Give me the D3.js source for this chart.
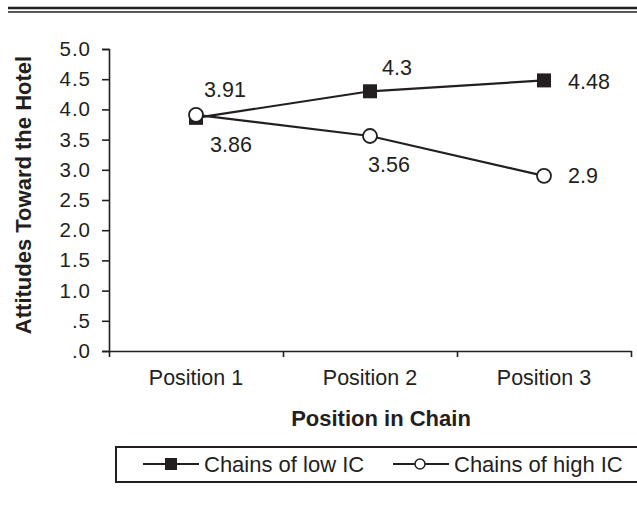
<!DOCTYPE html>
<html>
<head>
<meta charset="utf-8">
<script src="https://cdn.jsdelivr.net/npm/d3@7"></script>
<style>
  body { margin: 0; background: #fff; }
  svg text { font-family: "Liberation Sans", Arial, sans-serif; fill: #231f20; }
</style>
</head>
<body>
<div id="mainDiv"></div>
<script>
'use strict';

var categories = ["Position 1", "Position 2", "Position 3"];
var lowIC = [3.86, 4.3, 4.48];
var highIC = [3.91, 3.56, 2.9];
var yTicks = [0, 0.5, 1, 1.5, 2, 2.5, 3, 3.5, 4, 4.5, 5];
var yTickLabels = [".0", ".5", "1.0", "1.5", "2.0", "2.5", "3.0", "3.5", "4.0", "4.5", "5.0"];
var seriesNames = ["Chains of low IC", "Chains of high IC"];

// where each value label sits relative to its marker (layout only)
var lowLabelOffsets = [[14, 34], [12, -16], [24, 9]];
var highLabelOffsets = [[8, -18], [-2, 36], [24, 7]];

var ink = "#231f20";

var myApp = {};

myApp.run = function ()
{
    var svg = d3.select("#mainDiv").append("svg")
        .attr("width", 637)
        .attr("height", 508);

    // double rule at the top
    svg.append("line").attr("x1", 8).attr("x2", 637).attr("y1", 8).attr("y2", 8)
        .attr("stroke", ink).attr("stroke-width", 2.4);
    svg.append("line").attr("x1", 8).attr("x2", 637).attr("y1", 12).attr("y2", 12)
        .attr("stroke", ink).attr("stroke-width", 1.6);

    var x = d3.scaleBand().domain(categories).range([109, 631]).padding(0);
    var xEdges = d3.scaleLinear().domain([0, categories.length]).range([109, 631]);
    var y = d3.scaleLinear().domain([0, 5]).range([351, 49]);

    // y axis
    var yAxis = svg.append("g")
        .attr("transform", "translate(109,0)")
        .call(d3.axisLeft(y).tickValues(yTicks).tickSize(7).tickPadding(11)
            .tickFormat(function(d, i) { return yTickLabels[i]; }));
    yAxis.select(".domain").attr("stroke", ink).attr("stroke-width", 1.6);
    yAxis.selectAll(".tick line").attr("stroke", ink).attr("stroke-width", 1.6);
    yAxis.selectAll(".tick text")
        .attr("font-size", "20.5px")
        .attr("letter-spacing", "1px")
        .style("font-family", "'Liberation Sans', Arial, sans-serif")
        .attr("fill", ink);

    // x axis: boundary ticks + category labels
    var xAxis = svg.append("g")
        .attr("transform", "translate(0,351)")
        .call(d3.axisBottom(xEdges).ticks(categories.length).tickSize(6).tickSizeOuter(0)
            .tickFormat(""));
    xAxis.select(".domain").attr("stroke", ink).attr("stroke-width", 1.6);
    xAxis.selectAll(".tick line").attr("stroke", ink).attr("stroke-width", 1.6);

    var xLabels = svg.append("g")
        .attr("transform", "translate(0,351)")
        .call(d3.axisBottom(x).tickSize(0).tickPadding(19));
    xLabels.select(".domain").remove();
    xLabels.selectAll(".tick text")
        .attr("font-size", "21.5px")
        .style("font-family", "'Liberation Sans', Arial, sans-serif")
        .attr("fill", ink);

    // axis titles
    svg.append("text")
        .attr("x", 381).attr("y", 426)
        .attr("text-anchor", "middle")
        .attr("font-size", "22px").attr("font-weight", "bold")
        .text("Position in Chain");

    svg.append("text")
        .attr("transform", "translate(31,195) rotate(-90)")
        .attr("text-anchor", "middle")
        .attr("font-size", "22px").attr("font-weight", "bold")
        .text("Attitudes Toward the Hotel");

    var cx = function(d, i) { return x(categories[i]) + x.bandwidth() / 2; };
    var line = d3.line()
        .x(function(d, i) { return cx(d, i); })
        .y(function(d) { return y(d); });

    svg.append("path").datum(lowIC)
        .attr("d", line).attr("fill", "none")
        .attr("stroke", ink).attr("stroke-width", 2.2);
    svg.append("path").datum(highIC)
        .attr("d", line).attr("fill", "none")
        .attr("stroke", ink).attr("stroke-width", 2.2);

    svg.selectAll("rect.low").data(lowIC).enter().append("rect")
        .attr("class", "low")
        .attr("x", function(d, i) { return cx(d, i) - 7; })
        .attr("y", function(d) { return y(d) - 7; })
        .attr("width", 14).attr("height", 14)
        .attr("fill", ink);

    svg.selectAll("circle.high").data(highIC).enter().append("circle")
        .attr("class", "high")
        .attr("cx", function(d, i) { return cx(d, i); })
        .attr("cy", function(d) { return y(d); })
        .attr("r", 7)
        .attr("fill", "#fff")
        .attr("stroke", ink).attr("stroke-width", 1.8);

    // value labels
    svg.selectAll("text.lowlab").data(lowIC).enter().append("text")
        .attr("class", "lowlab")
        .attr("x", function(d, i) { return cx(d, i) + lowLabelOffsets[i][0]; })
        .attr("y", function(d, i) { return y(d) + lowLabelOffsets[i][1]; })
        .attr("font-size", "21.5px")
        .text(function(d) { return d; });

    svg.selectAll("text.highlab").data(highIC).enter().append("text")
        .attr("class", "highlab")
        .attr("x", function(d, i) { return cx(d, i) + highLabelOffsets[i][0]; })
        .attr("y", function(d, i) { return y(d) + highLabelOffsets[i][1]; })
        .attr("font-size", "21.5px")
        .text(function(d) { return d; });

    // legend box (runs off the right edge)
    var legend = svg.append("g");
    legend.append("rect")
        .attr("x", 116).attr("y", 447)
        .attr("width", 540).attr("height", 35)
        .attr("fill", "none").attr("stroke", ink).attr("stroke-width", 2);

    var legendX = [143, 393];
    var legendItems = legend.selectAll("g.item").data(seriesNames).enter().append("g")
        .attr("class", "item")
        .attr("transform", function(d, i) { return "translate(" + legendX[i] + ",464)"; });

    legendItems.append("line")
        .attr("x1", 0).attr("x2", 56).attr("y1", 0).attr("y2", 0)
        .attr("stroke", ink).attr("stroke-width", 2);

    legendItems.filter(function(d, i) { return i === 0; }).append("rect")
        .attr("x", 22).attr("y", -6).attr("width", 12).attr("height", 12)
        .attr("fill", ink);

    legendItems.filter(function(d, i) { return i === 1; }).append("circle")
        .attr("cx", 27).attr("cy", 0).attr("r", 5)
        .attr("fill", "#fff").attr("stroke", ink).attr("stroke-width", 1.5);

    legendItems.append("text")
        .attr("x", 61).attr("y", 8)
        .attr("font-size", "22px")
        .text(function(d) { return d; });
}

window.onload = myApp.run;
</script>
</body>
</html>
